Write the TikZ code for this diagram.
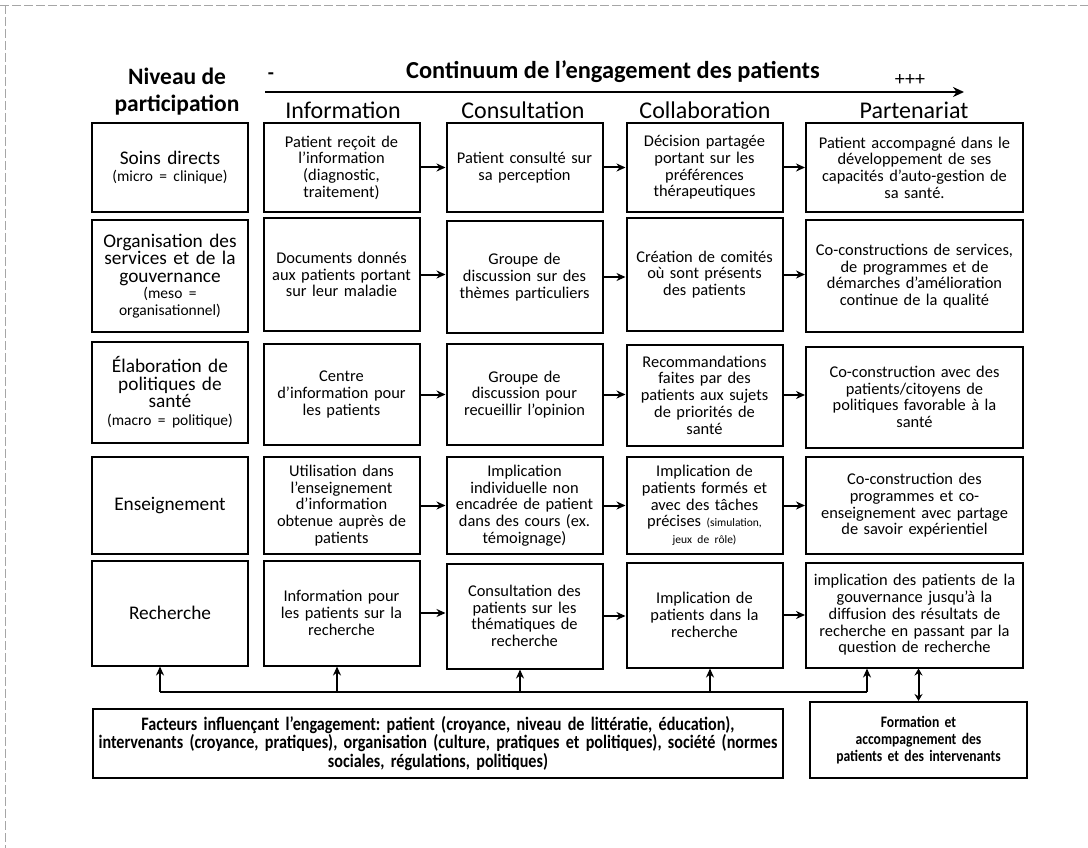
\documentclass[tikz,border=0pt]{standalone}
\usepackage{fontspec}
\setmainfont{Carlito}
\newfontfamily\narrowfont{Carlito}[FakeStretch=0.85, WordSpace=0.75]
\usetikzlibrary{arrows.meta,positioning,calc}
\frenchspacing

\begin{document}
\begin{tikzpicture}[x=1pt,y=-1pt,
	box/.style={draw, line width=2pt, align=center, inner sep=0pt, font=\fontsize{16.4}{16.7}\selectfont},
	narrow/.style={box, text width=152pt, minimum width=156pt},
	wide/.style={box, text width=212pt, minimum width=217pt},
	lvl/.style={narrow, font=\fontsize{19.3}{17.5}\selectfont},
	rowA/.style={minimum height=89pt},
	rowB/.style={minimum height=112pt},
	rowC/.style={minimum height=101pt},
	rowD/.style={minimum height=97pt},
	rowE/.style={minimum height=105pt},
	link/.style={-{Stealth[length=9pt,width=8pt]}, line width=2pt},
	head/.style={font=\fontsize{24}{26}\selectfont},
	ttl/.style={align=center, font=\bfseries\fontsize{23.5}{27}\selectfont},
	foot/.style={box, font=\narrowfont\bfseries\fontsize{19}{17}\selectfont}]
	\useasboundingbox (0,0) rectangle (1088,848);

	\begin{scope} % Page frame
		\draw[gray!70, line width=0.8pt, dash pattern=on 9pt off 3pt] (0,5) -- (1088,5);
		\draw[gray!70, line width=0.8pt, dash pattern=on 9pt off 3pt] (5,5) -- (5,848);
	\end{scope}

	\begin{scope} % Titles and continuum arrow
		\node[ttl] (niveau) at (177,92) {Niveau de\\participation};
		\node[ttl, font=\bfseries\fontsize{24.4}{26}\selectfont] (continuum) at (613,72) {Continuum de l’engagement des patients};
		\node[font=\bfseries\fontsize{20}{22}\selectfont] (moins) at (271,76) {-};
		\node[font=\fontsize{20}{22}\selectfont] (plus) at (910,80) {+++};
		\coordinate (cstart) at (265,92);
		\coordinate (cend) at (964,92);
		\draw[-{Stealth[length=11pt,width=10pt]}, line width=2.5pt] (cstart) -- (cend);
	\end{scope}

	\begin{scope} % Column heads
		\node[head] (hinfo) at (343,110) {Information};
		\node[head] (hcons) at (523,110) {Consultation};
		\node[head] (hcoll) at (705,110) {Collaboration};
		\node[head] (hpart) at (914,110) {Partenariat};
	\end{scope}

	\begin{scope} % Soins directs
		\node[lvl, rowA] (lvl1) at (170,167.5) {Soins directs\\{\fontsize{15.5}{16}\selectfont (micro = clinique)}};
		\node[narrow, rowA] (info1) at (341.5,167.5) {Patient reçoit de\\l’information\\(diagnostic,\\traitement)};
		\node[narrow, rowA] (cons1) at (524.5,167.5) {Patient consulté sur\\sa perception};
		\node[narrow, rowA] (coll1) at (704.5,167.5) {Décision partagée\\portant sur les\\préférences\\thérapeutiques};
		\node[wide, rowA] (part1) at (914.5,167.5) {Patient accompagné dans le\\développement de ses\\capacités d’auto-gestion de\\sa santé.};
	\end{scope}

	\begin{scope} % Organisation des services
		\node[lvl, rowB] (lvl2) at (170,276) {Organisation des\\services et de la\\gouvernance\\{\fontsize{15.5}{16}\selectfont (meso =\\organisationnel)}};
		\node[narrow, rowB] (info2) at (341.5,274.5) {Documents donnés\\aux patients portant\\sur leur maladie};
		\node[narrow, rowB] (cons2) at (524.5,277) {Groupe de\\discussion sur des\\thèmes particuliers};
		\node[narrow, rowB] (coll2) at (704.5,274.5) {Création de comités\\où sont présents\\des patients};
		\node[wide, rowB] (part2) at (914.5,276) {Co-constructions de services,\\de programmes et de\\démarches d’amélioration\\continue de la qualité};
	\end{scope}

	\begin{scope} % Politiques de sante
		\node[lvl, rowC] (lvl3) at (170,392) {Élaboration de\\politiques de\\santé\\{\fontsize{15.5}{16}\selectfont (macro = politique)}};
		\node[narrow, rowC] (info3) at (341.5,394.5) {Centre\\d’information pour\\les patients};
		\node[narrow, rowC] (cons3) at (524.5,394.5) {Groupe de\\discussion pour\\recueillir l’opinion};
		\node[narrow, rowC] (coll3) at (704.5,395) {Recommandations\\faites par des\\patients aux sujets\\de priorités de\\santé};
		\node[wide, rowC] (part3) at (914.5,397) {Co-construction avec des\\patients/citoyens de\\politiques favorable à la\\santé};
	\end{scope}

	\begin{scope} % Enseignement
		\node[lvl, rowD] (lvl4) at (170,505.5) {Enseignement};
		\node[narrow, rowD] (info4) at (341.5,505.5) {Utilisation dans\\l’enseignement\\d’information\\obtenue auprès de\\patients};
		\node[narrow, rowD] (cons4) at (524.5,505.5) {Implication\\individuelle non\\encadrée de patient\\dans des cours (ex.\\témoignage)};
		\node[narrow, rowD] (coll4) at (704.5,505.5) {Implication de\\patients formés et\\avec des tâches\\précises {\fontsize{11.5}{13}\selectfont (simulation,}\\{\fontsize{11.5}{13}\selectfont jeux de rôle)}};
		\node[wide, rowD] (part4) at (914.5,505.5) {Co-construction des\\programmes et co-\\enseignement avec partage\\de savoir expérientiel};
	\end{scope}

	\begin{scope} % Recherche
		\node[lvl, rowE] (lvl5) at (170,613) {Recherche};
		\node[narrow, rowE] (info5) at (341.5,613) {Information pour\\les patients sur la\\recherche};
		\node[narrow, rowE] (cons5) at (524.5,616) {Consultation des\\patients sur les\\thématiques de\\recherche};
		\node[narrow, rowE] (coll5) at (704.5,615) {Implication de\\patients dans la\\recherche};
		\node[wide, rowE] (part5) at (914.5,615) {implication des patients de la\\gouvernance jusqu’à la\\diffusion des résultats de\\recherche en passant par la\\question de recherche};
	\end{scope}

	% arrows along each row
	\foreach \r in {1,...,5}{
		\draw[link] (info\r.east) -- (info\r.east -| cons\r.west);
		\draw[link] (cons\r.east) -- (cons\r.east -| coll\r.west);
		\draw[link] (coll\r.east) -- (coll\r.east -| part\r.west);
	}

	\begin{scope} % Factors feeding every column
		\coordinate (bus0) at (160,692);
		\coordinate (bus1) at (337,692);
		\coordinate (bus2) at (520,692);
		\coordinate (bus3) at (710,692);
		\coordinate (bus4) at (867,692);
		\draw[line width=2pt] (bus0) -- (bus4);
		\foreach \b/\n in {0/lvl5,1/info5,2/cons5,3/coll5,4/part5}
			\draw[link] (bus\b) -- (bus\b |- \n.south);
	\end{scope}

	\begin{scope} % Bottom boxes
		\node[foot, text width=684pt, minimum width=690pt, minimum height=69pt] (facteurs) at (438,743.5) {Facteurs influençant l’engagement: patient (croyance, niveau de littératie, éducation),\\intervenants (croyance, pratiques), organisation (culture, pratiques et politiques), société (normes\\sociales, régulations, politiques)};
		\node[foot, font=\narrowfont\bfseries\fontsize{16}{17}\selectfont, text width=210pt, minimum width=217pt, minimum height=76pt] (formation) at (918.5,740) {Formation et\\accompagnement des\\patients et des intervenants};
		\draw[{Stealth[length=7pt,width=8pt]}-{Stealth[length=7pt,width=8pt]}, line width=2pt] (formation.north) -- (formation.north |- part5.south);
	\end{scope}
\end{tikzpicture}
\end{document}
